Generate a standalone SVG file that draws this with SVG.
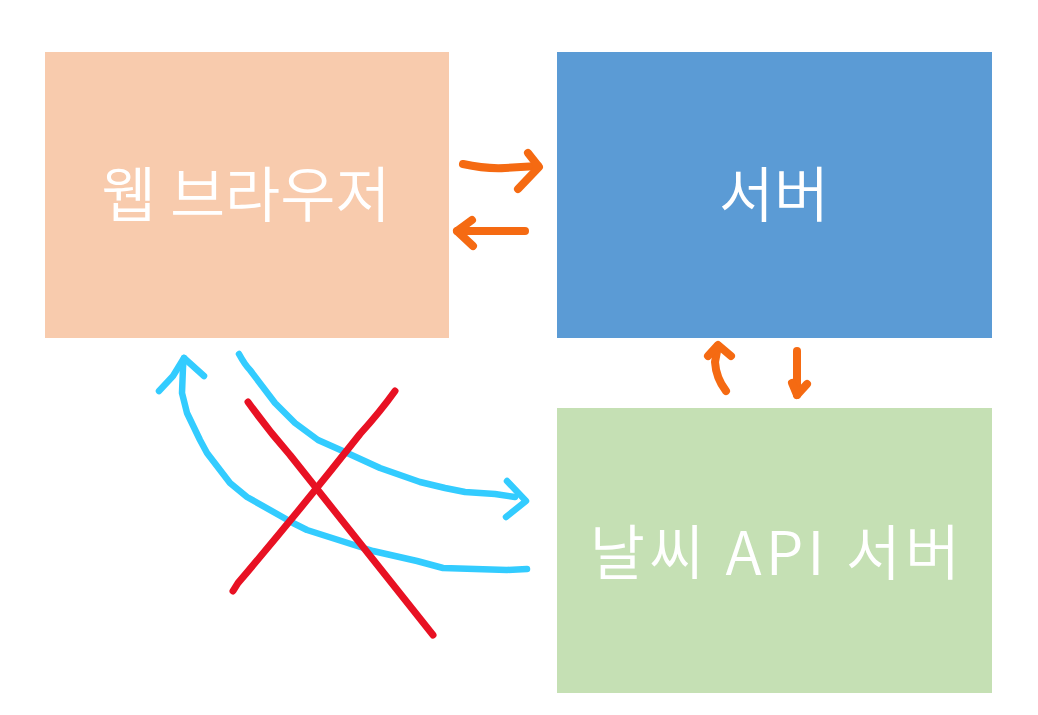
<svg xmlns="http://www.w3.org/2000/svg" width="1038" height="715" viewBox="0 0 1038 715">
<style>
.lbl{font-family:"Noto Sans CJK KR","Noto Sans",sans-serif;font-size:60px;font-weight:350;fill:#ffffff;text-anchor:middle}
.or{fill:none;stroke:#F56A12;stroke-width:8;stroke-linecap:round;stroke-linejoin:round}
.bl{fill:none;stroke:#33CCFF;stroke-width:6.5;stroke-linecap:round;stroke-linejoin:round}
.rd{fill:none;stroke:#E81123;stroke-width:7;stroke-linecap:round;stroke-linejoin:round}
</style>
<rect width="1038" height="715" fill="#ffffff"/>
<g id="browser">
<rect x="45" y="52" width="404" height="286" fill="#F8CBAD"/>
<text class="lbl" x="246" y="217">웹 브라우저</text>
</g>
<g id="server">
<rect x="557" y="52" width="435" height="286" fill="#5B9BD5"/>
<text class="lbl" x="774" y="217">서버</text>
</g>
<g id="weather">
<rect x="557" y="408" width="435" height="285" fill="#C5E0B4"/>
<text class="lbl" x="777" y="575" letter-spacing="4">날씨 API 서버</text>
</g>
<g id="connectors">
<path class="or" d="M463,164 Q485,169 505,168 L538,166"/>
<path class="or" d="M528,153 L539,167 L518,189"/>
<path class="or" d="M525,231 L457,231"/>
<path class="or" d="M472,220 L457,231 L473,246"/>
<path class="or" d="M726,391 Q716,378 715,362 L718,346"/>
<path class="or" d="M708,356 L718,345 L731,356"/>
<path class="or" d="M797,351 L797,395"/>
<path class="or" d="M792,383 L797,395 L807,384"/>
<path class="bl" d="M239,354 Q245,365 250,370 L275,403 L295,423 L318,440 L345,452 L380,468 L420,482 L445,488 L465,492 L495,494 L515,497"/>
<path class="bl" d="M507,481 L526,501 L506,517"/>
<path class="bl" d="M527,569 L507,570 L443,568 L417,561 L373,551 L307,530 L293,523 L247,497 L230,483 L207,453 L200,440 L187,413 L182,393 L183,367 L184,358"/>
<path class="bl" d="M159,391 L173,376 L184,358 L204,376"/>
<path class="rd" d="M248,402 Q268,430 290,455 Q350,530 433,635"/>
<path class="rd" d="M395,391 Q380,412 360,434 Q300,510 238,583 L233,591"/>
</g>
</svg>
